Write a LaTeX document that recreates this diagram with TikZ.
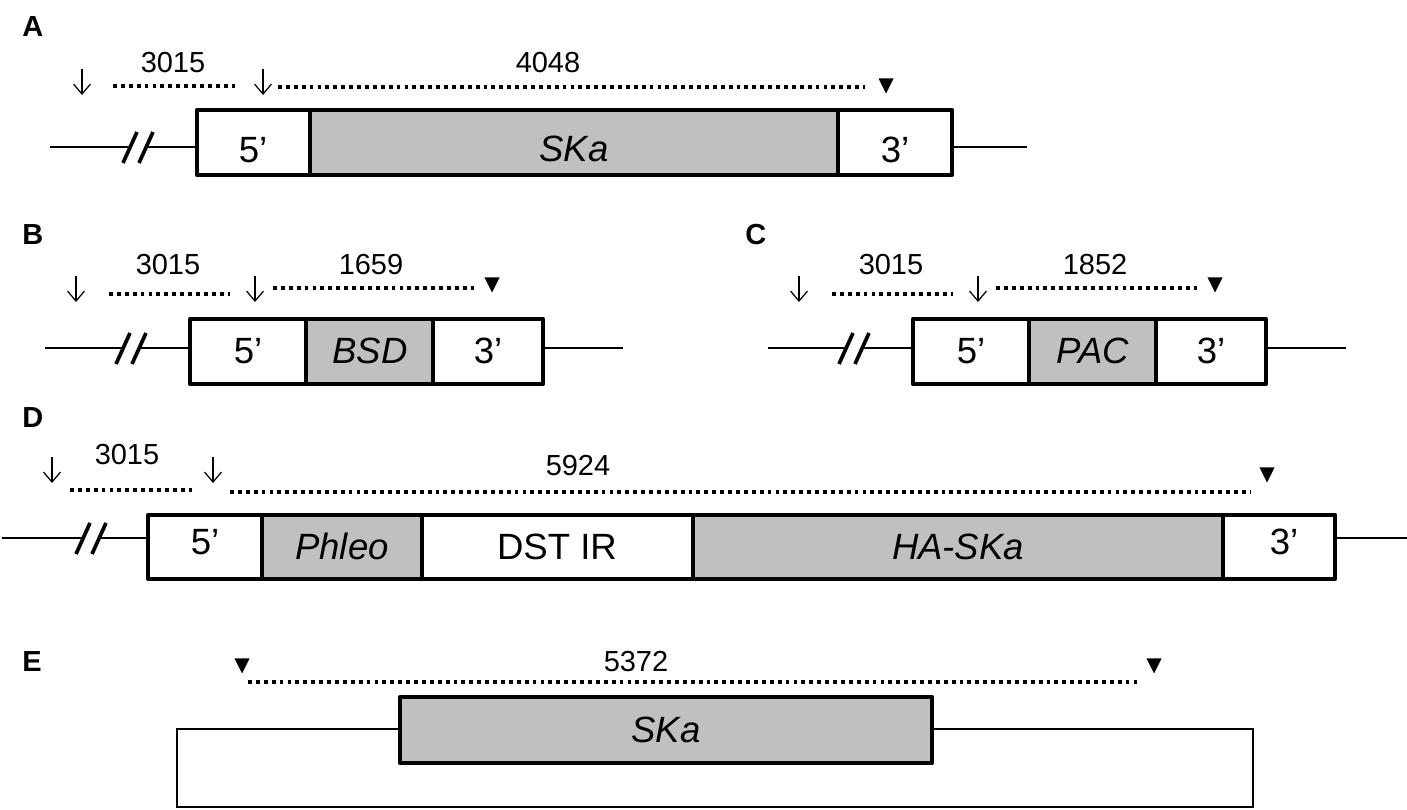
\documentclass[tikz,border=0pt]{standalone}
\usepackage{fontspec}
\setmainfont{Liberation Sans}
\usepackage{tikz}
\usetikzlibrary{arrows.meta}
\definecolor{genegray}{HTML}{C0C0C0}

% filled end marker, pointing down, centred on (#1,#2)
\newcommand{\stopmark}[2]{\fill ({#1-7.5},{#2-7.5}) -- ({#1+7.5},{#2-7.5}) -- (#1,{#2+7.5}) -- cycle;}
% the // break in the flanking DNA: first stroke centred on (#1,#2), second 16 further right
\newcommand{\dnabreak}[2]{%
  \draw[line width=2.1pt] ({#1-7},{#2+16}) -- ({#1+7},{#2-15});
  \draw[line width=2.1pt] ({#1+9},{#2+16}) -- ({#1+23},{#2-15});}

\begin{document}
\begin{tikzpicture}[x=0.02cm, y=-0.02cm,
    seg/.style={line width=2.6pt, line join=round},
    divide/.style={line width=2.2pt},
    dna/.style={line width=0.9pt},
    span/.style={line width=2.2pt, dash pattern=on 2.2pt off 2.3pt},
    cut/.style={line width=0.7pt, -{Straight Barb[length=2mm, width=3.4mm]}},
    len/.style={font=\fontsize{16.5}{19}\selectfont},
    lab/.style={font=\fontsize{20.8}{24}\selectfont},
    panel/.style={anchor=west, inner sep=0pt, font=\fontsize{16.5}{19}\selectfont\bfseries}]

  \useasboundingbox (0,0) rectangle (1407,810);

  % -- A: the SKa locus
  \node[panel] (pA) at (22,27) {A};
  \draw[cut] (82,69) -- (82,95);
  \draw[cut] (263,69) -- (263,95);
  \draw[span] (113,86) -- (238,86);
  \draw[span] (278,87) -- (865,87);
  \node[len] (lenA1) at (173,63) {3015};
  \node[len] (lenA2) at (548,63) {4048};
  \stopmark{886}{86}
  \draw[dna] (50,147) -- (130,147) (146,147) -- (197,147) (952,147) -- (1027,147);
  \dnabreak{130}{147}
  \fill[genegray] (310,110) rectangle (838,175);
  \draw[divide] (310,110) -- (310,175) (838,110) -- (838,175);
  \draw[seg] (197,110) rectangle (952,175);
  \node[lab] (A5) at (253,150) {5'};
  \node[lab] (geneA) at (574,149) {\textit{SKa}};
  \node[lab] (A3) at (895,150) {3'};

  % -- B and C: same cassette layout, C shifted to the right
  \foreach \dx/\name/\gene/\bp/\bx in {0/B/BSD/1659/371, 723/C/PAC/1852/372}{
    \begin{scope}[shift={(\dx,0)}]
      \node[panel] (p\name) at (22,235) {\name};
      \draw[cut] (76,276) -- (76,302);
      \draw[cut] (255,276) -- (255,302);
      \draw[span] (109,294) -- (230,294);
      \draw[span] (273,288) -- (474,288);
      \node[len] (len\name1) at (168,265) {3015};
      \node[len] (len\name2) at (\bx,265) {\bp};
      \stopmark{492}{285}
      \draw[dna] (45,348) -- (123,348) (139,348) -- (190,348) (543,348) -- (623,348);
      \dnabreak{123}{348}
      \fill[genegray] (306,319) rectangle (433,384);
      \draw[divide] (306,319) -- (306,384) (433,319) -- (433,384);
      \draw[seg] (190,319) rectangle (543,384);
      \node[lab] (\name5) at (248,351) {5'};
      \node[lab] (gene\name) at (370,351) {\textit{\gene}};
      \node[lab] (\name3) at (488,351) {3'};
    \end{scope}}

  % -- D: the rescue construct
  \node[panel] (pD) at (22,418) {D};
  \draw[cut] (52,457) -- (52,483);
  \draw[cut] (213,457) -- (213,483);
  \draw[span] (70,490) -- (195,490);
  \draw[span] (230,492) -- (1250,492);
  \node[len] (lenD1) at (127,455) {3015};
  \node[len] (lenD2) at (578,466) {5924};
  \stopmark{1267}{475}
  \draw[dna] (2,538) -- (83,538) (99,538) -- (148,538) (1335,538) -- (1407,538);
  \dnabreak{83}{538}
  \fill[genegray] (262,515) rectangle (422,579) (693,515) rectangle (1223,579);
  \draw[divide] (262,515) -- (262,579) (422,515) -- (422,579)
    (693,515) -- (693,579) (1223,515) -- (1223,579);
  \draw[seg] (148,515) rectangle (1335,579);
  \node[lab] (D5) at (205,542) {5'};
  \node[lab] (phleoD) at (342,546) {\textit{Phleo}};
  \node[lab] (irD) at (557,547) {DST IR};
  \node[lab] (geneD) at (958,547) {\textit{HA-SKa}};
  \node[lab] (D3) at (1284,542) {3'};

  % -- E: the plasmid
  \node[panel] (pE) at (22,662) {E};
  \stopmark{242}{666}
  \stopmark{1154}{666}
  \draw[span] (248,682) -- (1137,682);
  \node[len] (lenE) at (636,662) {5372};
  \draw[line width=1pt] (177,729) rectangle (1253,807);
  \fill[genegray] (400,697) rectangle (932,763);
  \draw[seg] (400,697) rectangle (932,763);
  \node[lab] (geneE) at (666,730) {\textit{SKa}};

\end{tikzpicture}
\end{document}
